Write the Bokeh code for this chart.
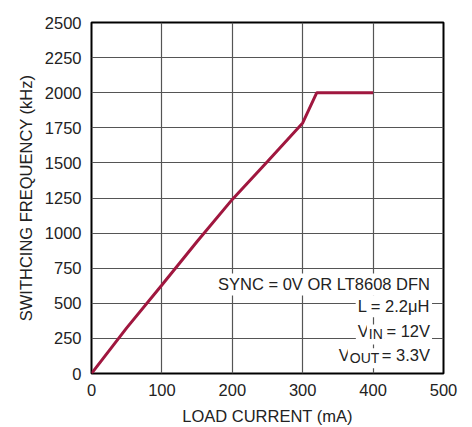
from bokeh.plotting import figure
from bokeh.models import Label, FixedTicker, Range1d
from bokeh.embed import file_html
from bokeh.resources import INLINE

# Data
current_ma = [0, 50, 100, 150, 200, 250, 300, 320, 400]
freq_khz = [0, 325, 630, 940, 1240, 1510, 1785, 2000, 2000]
x_ticks = [0, 100, 200, 300, 400, 500]
y_ticks = [0, 250, 500, 750, 1000, 1250, 1500, 1750, 2000, 2250, 2500]

FONT = "Liberation Sans"
FS = "16.5px"
SUB = "14px"
TXT = "#222222"
LINE_COLOR = "#A0173F"

p = figure(width=472, height=427, output_backend="svg", toolbar_location=None,
           x_range=Range1d(0, 500), y_range=Range1d(0, 2500),
           min_border_left=91, min_border_right=29, min_border_top=22, min_border_bottom=54)

p.outline_line_color = "black"
p.outline_line_width = 2
p.background_fill_color = "white"
p.border_fill_color = "white"

for ax in (p.xaxis[0], p.yaxis[0]):
    ax.axis_line_color = None
    ax.major_tick_line_color = None
    ax.minor_tick_line_color = None
    ax.major_tick_in = 0
    ax.major_tick_out = 0
    ax.minor_tick_in = 0
    ax.minor_tick_out = 0
    ax.major_label_text_font = FONT
    ax.major_label_text_font_size = FS
    ax.major_label_text_color = TXT
    ax.axis_label_text_font = FONT
    ax.axis_label_text_font_size = FS
    ax.axis_label_text_font_style = "normal"
    ax.axis_label_text_color = TXT

p.xaxis.ticker = FixedTicker(ticks=x_ticks)
p.yaxis.ticker = FixedTicker(ticks=y_ticks)
p.xaxis.axis_label = "LOAD CURRENT (mA)"
p.yaxis.axis_label = "SWITHCING FREQUENCY (kHz)"
p.xaxis.major_label_standoff = 10
p.yaxis.major_label_standoff = 10
p.xaxis.axis_label_standoff = 8
p.yaxis.axis_label_standoff = 7

p.xgrid.ticker = FixedTicker(ticks=x_ticks)
p.ygrid.ticker = FixedTicker(ticks=y_ticks)
for g in (p.xgrid[0], p.ygrid[0]):
    g.grid_line_color = "#555555"
    g.grid_line_width = 1.2

p.line(current_ma, freq_khz, line_color=LINE_COLOR, line_width=3)

# Annotation block (right-aligned, white background)
def lab(x, y, text, size=FS, align="right"):
    l = Label(x=x, y=y, text=text, text_font=FONT, text_font_size=size,
              text_align=align, text_baseline="middle", text_color=TXT,
              background_fill_color="white", padding=2)
    p.add_layout(l)
    return l

RIGHT = 483.7
lab(RIGHT, 634, "SYNC = 0V OR LT8608 DFN")
lab(RIGHT, 479, "L = 2.2\u03bcH")
lab(RIGHT, 306, "= 12V")
lab(396.8, 306, "V")
lab(416.7, 278, "IN", size=SUB)
lab(RIGHT, 135, "= 3.3V")
lab(369.7, 135, "V")
lab(411.7, 108, "OUT", size=SUB)

open("out.html", "w").write(file_html(p, INLINE))
